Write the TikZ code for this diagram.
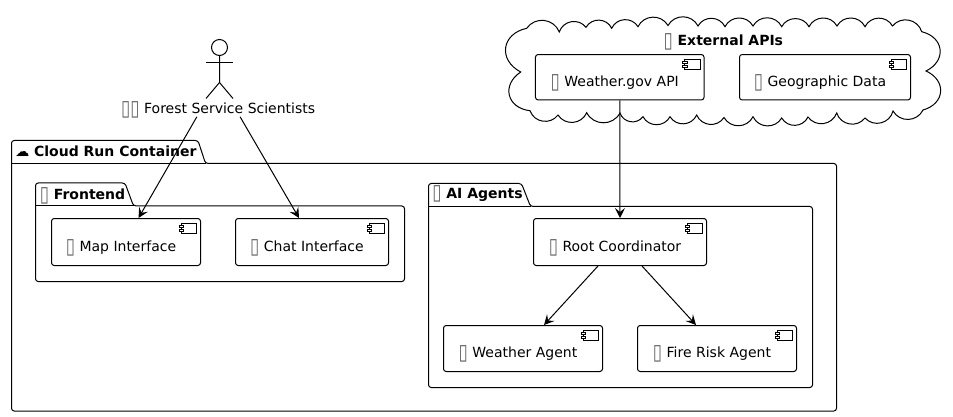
\documentclass[tikz,border=0pt]{standalone}
\usepackage{fontspec}
\setmainfont{DejaVu Sans}
\usetikzlibrary{arrows.meta}
\newcommand{\tofu}{\textcolor{black!60}{\raisebox{-1.4pt}[0pt][0pt]{\scalebox{1.2}[1.55]{▯}}}}
\newcommand{\clab}[1]{\raisebox{-7.1pt}[0pt][0pt]{\tofu{} #1\hspace{7.5pt}}}
\tikzset{
	comp/.style={draw,rounded corners=2pt,inner sep=0,line width=.75pt,font=\fontsize{10.5}{12}\selectfont},
	pkg/.style={draw,rounded corners=2pt,line width=.75pt},
	title/.style={inner sep=0,font=\fontsize{10.5}{12}\selectfont\bfseries},
	flow/.style={draw,line width=.75pt,-{Stealth[length=7.5pt,width=7.5pt,inset=3pt]}},
	icon/.pic={
		\draw[line width=.75pt,fill=white] (-20,5) rectangle (-4.5,15);
		\draw[line width=.6pt,fill=white] (-22,7.5) rectangle (-17.5,9.5);
		\draw[line width=.6pt,fill=white] (-22,11) rectangle (-17.5,13);
	}
}
\begin{document}
\begin{tikzpicture}[x=.75pt,y=-.75pt]
\useasboundingbox (0,0) rectangle (953,417);
% cloud
\draw[line width=.75pt,bend left=62,looseness=1.15]
	(526.7,28.3) to (559.3,32) to (586,27.3) to (611.7,28.3) to (638,26.7) to (668,25.5)
	to (698,26) to (725,26.7) to (753,26) to (781.7,26.7) to (809,26.7) to (837,26)
	to (865,26.7) to (892.5,26) to (921.7,31.7)
	to[bend left=70,looseness=1.5] (926,71) to[bend left=70,looseness=1.5] (923,110)
	to (893,111) to (865,118) to (836.7,113) to (808,117) to (781.7,118) to (753,116.7)
	to (724,117.5) to (696.7,115) to (670,116.7) to (643,116.7) to (620,113) to (586.7,112.7)
	to (558,115) to (530,110.7)
	to[bend left=70,looseness=1.5] (520.7,72) to[bend left=70,looseness=1.5] cycle;
\node[title] (exttitle) at (723.3,40) {\tofu{} External APIs};
% packages
\draw[pkg] (11.5,163.5) -- (11.5,140.5) -- (198,140.5) -- (205.5,163.5) -- (836.5,163.5) -- (836.5,411) -- (11.5,411) -- cycle;
\draw[line width=.75pt] (11.5,163.5) -- (205.5,163.5);
\node[title,anchor=west] (cloudtitle) at (15,151) {☁ Cloud Run Container};
\draw[pkg] (35.5,206) -- (35.5,183) -- (125,183) -- (133.5,206) -- (404.5,206) -- (404.5,281.5) -- (35.5,281.5) -- cycle;
\draw[line width=.75pt] (35.5,206) -- (133.5,206);
\node[title,anchor=west] (fronttitle) at (39.5,194) {\tofu{} Frontend};
\draw[pkg] (428.5,206.5) -- (428.5,183.5) -- (521.5,183.5) -- (530.5,206.5) -- (812.5,206.5) -- (812.5,387.5) -- (428.5,387.5) -- cycle;
\draw[line width=.75pt] (428.5,206.5) -- (530.5,206.5);
\node[title,anchor=west] (agenttitle) at (432,194.5) {\tofu{} AI Agents};
% components
\node[comp,minimum width=126.4pt,minimum height=34.1pt] (wapi) at (619.75,77.25) {\clab{Weather.gov API}};
\node[comp,minimum width=128.25pt,minimum height=34.1pt] (geo) at (825,77.25) {\clab{Geographic Data}};
\node[comp,minimum width=111.75pt,minimum height=35.25pt] (map) at (126,242) {\clab{Map Interface}};
\node[comp,minimum width=114.75pt,minimum height=35.25pt] (chat) at (312,242) {\clab{Chat Interface}};
\node[comp,minimum width=129.75pt,minimum height=35.25pt] (root) at (620,242) {\clab{Root Coordinator}};
\node[comp,minimum width=119.25pt,minimum height=34.5pt] (wagent) at (523,348.5) {\clab{Weather Agent}};
\node[comp,minimum width=119.25pt,minimum height=34.5pt] (fire) at (717,348.5) {\clab{Fire Risk Agent}};
\foreach \n in {wapi,geo,map,chat,root,wagent,fire}
	\pic at (\n.north east) {icon};
% actor
\node[circle,draw,line width=.75pt,inner sep=0,minimum size=12pt] (head) at (219.5,47.5) {};
\draw[line width=.75pt] (head.south) -- ++(0,26.5) coordinate (hip) -- ++(-13.5,16);
\draw[line width=.75pt] (hip) -- ++(13.5,16);
\draw[line width=.75pt] (206,62.7) -- (233,62.7);
\node[inner sep=0,minimum height=12.75pt,font=\fontsize{10.5}{12}\selectfont] (sci) at (218.2,108) {\tofu\tofu{} Forest Service Scientists};
% arrows
\draw[flow] ([xshift=-16pt]sci.south) -- ([xshift=9.4pt]map.north);
\draw[flow] ([xshift=16.4pt]sci.south) -- ([xshift=-9.75pt]chat.north);
\draw[flow] (wapi.south) -- (root.north);
\draw[flow] ([xshift=-16.5pt]root.south) -- ([xshift=15.75pt]wagent.north);
\draw[flow] ([xshift=16.5pt]root.south) -- ([xshift=-15.75pt]fire.north);
\end{tikzpicture}
\end{document}
